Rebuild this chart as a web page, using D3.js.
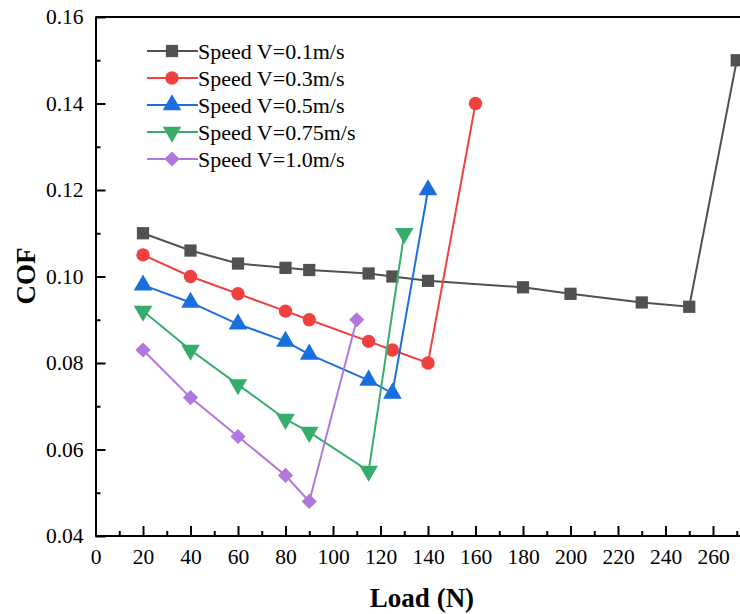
<!DOCTYPE html>
<html>
<head>
  <title>COF vs Load</title>
  <style>
    body { margin: 0; background: #fff; }
    svg { display: block; }
  </style>
</head>
<body>
  <div id="chart"></div>
  <script src="https://d3js.org/d3.v7.min.js"></script>
  <script>
    // Data
    const seriesNames = ["Speed V=0.1m/s", "Speed V=0.3m/s", "Speed V=0.5m/s", "Speed V=0.75m/s", "Speed V=1.0m/s"];
    const load01 = [20, 40, 60, 80, 90, 115, 125, 140, 180, 200, 230, 250, 270];
    const cof01 = [0.110, 0.106, 0.103, 0.102, 0.1015, 0.1007, 0.100, 0.099, 0.0975, 0.096, 0.094, 0.093, 0.150];
    const load03 = [20, 40, 60, 80, 90, 115, 125, 140, 160];
    const cof03 = [0.105, 0.100, 0.096, 0.092, 0.090, 0.085, 0.083, 0.080, 0.140];
    const load05 = [20, 40, 60, 80, 90, 115, 125, 140];
    const cof05 = [0.098, 0.094, 0.089, 0.085, 0.082, 0.076, 0.073, 0.120];
    const load075 = [20, 40, 60, 80, 90, 115, 130];
    const cof075 = [0.092, 0.083, 0.075, 0.067, 0.064, 0.055, 0.110];
    const load10 = [20, 40, 60, 80, 90, 110];
    const cof10 = [0.083, 0.072, 0.063, 0.054, 0.048, 0.090];
    const xTicks = [0, 20, 40, 60, 80, 100, 120, 140, 160, 180, 200, 220, 240, 260];
    const yTicks = [0.04, 0.06, 0.08, 0.10, 0.12, 0.14, 0.16];

    const FONT = "Liberation Serif, serif";
    const colors = ["#515151", "#F14040", "#1A6FDF", "#37AD6B", "#B177DE"];
    const symbols = [d3.symbolSquare, d3.symbolCircle, d3.symbolTriangle, d3.symbolTriangle, d3.symbolSquare];
    const symbolSizes = [150, 140, 150, 150, 115];
    const symbolRotate = [0, 0, 0, 180, 45];

    const series = [
      { name: seriesNames[0], xs: load01, ys: cof01 },
      { name: seriesNames[1], xs: load03, ys: cof03 },
      { name: seriesNames[2], xs: load05, ys: cof05 },
      { name: seriesNames[3], xs: load075, ys: cof075 },
      { name: seriesNames[4], xs: load10, ys: cof10 }
    ];

    const W = 740, H = 614;
    const plotLeft = 95.5, plotTop = 17, plotBottom = 536;

    const svg = d3.select("#chart").append("svg")
      .attr("width", W).attr("height", H)
      .style("font-family", FONT);

    const x = d3.scaleLinear().domain([0, 280]).range([plotLeft, plotLeft + 280 * 2.375]);
    const y = d3.scaleLinear().domain([0.04, 0.16]).range([plotBottom, plotTop]);

    // minor ticks
    const minorX = d3.range(10, 290, 20);
    const minorY = [0.05, 0.07, 0.09, 0.11, 0.13, 0.15];

    svg.append("g")
      .attr("transform", `translate(0,${plotBottom})`)
      .call(d3.axisBottom(x).tickValues(minorX).tickSize(-5).tickFormat(""))
      .call(g => g.select(".domain").remove())
      .selectAll("line").attr("stroke-width", 2);

    svg.append("g")
      .attr("transform", `translate(${plotLeft},0)`)
      .call(d3.axisLeft(y).tickValues(minorY).tickSize(-5).tickFormat(""))
      .call(g => g.select(".domain").remove())
      .selectAll("line").attr("stroke-width", 2);

    const xAxis = svg.append("g")
      .attr("transform", `translate(0,${plotBottom})`)
      .call(d3.axisBottom(x).tickValues(xTicks).tickSize(-10).tickSizeOuter(0).tickPadding(13).tickFormat(d3.format("d")));
    xAxis.select(".domain").attr("stroke-width", 2).attr("d", `M${plotLeft},0H${W}`);
    xAxis.selectAll("line").attr("stroke-width", 2);
    xAxis.selectAll("text")
      .style("font-family", FONT).style("font-size", "21.5px").attr("fill", "#000");

    const yAxis = svg.append("g")
      .attr("transform", `translate(${plotLeft},0)`)
      .call(d3.axisLeft(y).tickValues(yTicks).tickSize(-10).tickSizeOuter(0).tickPadding(12).tickFormat(d3.format(".2f")));
    yAxis.select(".domain").attr("stroke-width", 2);
    yAxis.selectAll("line").attr("stroke-width", 2);
    yAxis.selectAll("text")
      .style("font-family", FONT).style("font-size", "21.5px").attr("fill", "#000");

    // top frame line
    svg.append("line")
      .attr("x1", plotLeft).attr("x2", W)
      .attr("y1", plotTop).attr("y2", plotTop)
      .attr("stroke", "#000").attr("stroke-width", 2);

    // axis titles
    svg.append("text")
      .attr("x", 422).attr("y", 607)
      .attr("text-anchor", "middle")
      .attr("font-size", 27).attr("font-weight", "bold")
      .text("Load (N)");

    svg.append("text")
      .attr("transform", `translate(35,276) rotate(-90)`)
      .attr("text-anchor", "middle")
      .attr("font-size", 27).attr("font-weight", "bold")
      .text("COF");

    const line = d3.line().x(d => x(d[0])).y(d => y(d[1]));

    series.forEach((s, i) => {
      const pts = s.xs.map((v, j) => [v, s.ys[j]]);
      svg.append("path")
        .datum(pts)
        .attr("fill", "none")
        .attr("stroke", colors[i])
        .attr("stroke-width", 2)
        .attr("d", line);

      svg.selectAll(".m" + i)
        .data(pts)
        .enter().append("path")
        .attr("class", "m" + i)
        .attr("transform", d => `translate(${x(d[0])},${y(d[1])}) rotate(${symbolRotate[i]})`)
        .attr("d", d3.symbol().type(symbols[i]).size(symbolSizes[i]))
        .attr("fill", colors[i]);
    });

    // legend
    const legend = svg.append("g");
    series.forEach((s, i) => {
      const ly = 51 + i * 27;
      legend.append("line")
        .attr("x1", 147).attr("x2", 198)
        .attr("y1", ly).attr("y2", ly)
        .attr("stroke", colors[i]).attr("stroke-width", 2);
      legend.append("path")
        .attr("transform", `translate(172,${ly}) rotate(${symbolRotate[i]})`)
        .attr("d", d3.symbol().type(symbols[i]).size(symbolSizes[i]))
        .attr("fill", colors[i]);
      legend.append("text")
        .attr("x", 198).attr("y", ly + 7.5)
        .attr("font-size", 22)
        .text(s.name);
    });
  </script>
</body>
</html>
